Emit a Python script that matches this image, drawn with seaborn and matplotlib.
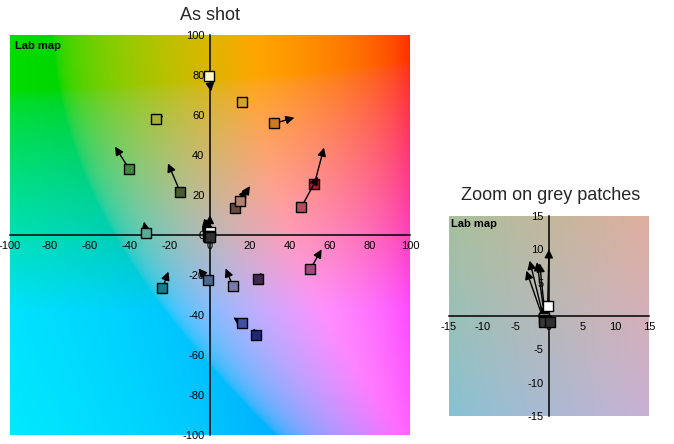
import numpy as np
import pandas as pd
import matplotlib
matplotlib.use("Agg")
import matplotlib.pyplot as plt
import seaborn as sns

# Colour patches: measured (a*, b*) as shot, and the reference (a*, b*) each arrow points to
patch_names = [
    "pale yellow", "yellow green", "green", "dark olive", "teal grey", "gold",
    "orange", "red", "rose", "dark brown", "light brown", "teal",
    "slate blue", "magenta", "lavender", "dark purple", "blue", "navy",
]
shot_a = [-0.5, -27.0, -40.3, -14.8, -32.0, 16.2, 32.2, 52.2, 45.7, 12.7, 15.2, -23.8,
          -0.8, 50.2, 11.5, 23.8, 16.0, 23.2]
shot_b = [79.5, 58.0, 32.8, 21.3, 1.2, 66.3, 55.8, 25.5, 14.0, 13.3, 17.0, -26.7,
          -22.7, -17.0, -25.7, -22.0, -44.2, -50.2]
ref_a = [0.5, -23.2, -47.5, -21.0, -33.0, 16.2, 42.2, 57.0, 54.0, 18.5, 20.0, -20.8,
         -5.8, 55.8, 7.8, 25.8, 11.7, 21.8]
ref_b = [71.7, 59.6, 44.2, 35.8, 6.7, 66.3, 58.7, 43.7, 29.2, 23.0, 24.5, -18.3,
         -16.7, -7.2, -16.7, -18.8, -41.2, -46.7]
patch_colors = ["#fff7c8", "#a8b030", "#3c8a3c", "#4a5a32", "#5aaa98", "#d8a030",
                "#d07820", "#a82030", "#b84a5a", "#6a4a3a", "#b08272", "#1a7a90",
                "#4a6890", "#a04a80", "#7a7ab0", "#42284e", "#4050a0", "#202878"]

# Neutral (grey) patches
grey_names = ["white", "grey 1", "grey 2", "grey 3", "grey 4", "black"]
grey_shot_a = [-0.2, -0.8, -0.6, -0.5, -0.7, 0.2]
grey_shot_b = [1.5, -0.3, -0.6, -0.8, -0.9, -0.9]
grey_ref_a = [0.0, -2.9, -1.8, -1.4, -3.4, -1.3]
grey_ref_b = [10.0, 8.3, 8.1, 7.9, 6.8, 1.4]
grey_colors = ["#ffffff", "#c0c0c0", "#808080", "#505050", "#383838", "#303030"]

map_lightness = 75.0
main_ticks = list(range(-100, 101, 20))
zoom_ticks = list(range(-15, 16, 5))


def lab_to_srgb(L, a, b):
    """Lab (D65 white) to sRGB, clipped per channel."""
    fy = (L + 16.0) / 116.0
    fx = fy + a / 500.0
    fz = fy - b / 200.0
    d = 6.0 / 29.0

    def finv(t):
        return np.where(t > d, t ** 3, 3 * d * d * (t - 4.0 / 29.0))

    X = 0.95047 * finv(fx)
    Y = 1.00000 * finv(np.full_like(fx, fy))
    Z = 1.08883 * finv(fz)
    r = 3.2406 * X - 1.5372 * Y - 0.4986 * Z
    g = -0.9689 * X + 1.8758 * Y + 0.0415 * Z
    bl = 0.0557 * X - 0.2040 * Y + 1.0570 * Z
    rgb = np.stack([r, g, bl], axis=-1)
    rgb = np.clip(rgb, 0, 1)
    rgb = np.where(rgb <= 0.0031308, 12.92 * rgb, 1.055 * rgb ** (1 / 2.4) - 0.055)
    return np.clip(rgb, 0, 1)


def lab_map(ax, lim):
    grid = np.linspace(-lim, lim, 400)
    A, B = np.meshgrid(grid, grid)
    img = lab_to_srgb(map_lightness, A, B)
    ax.imshow(img, origin="lower", extent=[-lim, lim, -lim, lim],
              aspect="auto", interpolation="bilinear", zorder=0)


def style_axes(ax, lim, ticks):
    ax.set_xlim(-lim, lim)
    ax.set_ylim(-lim, lim)
    for side in ("top", "right"):
        ax.spines[side].set_visible(False)
    for side in ("left", "bottom"):
        ax.spines[side].set_position(("data", 0))
        ax.spines[side].set_linewidth(1.1)
        ax.spines[side].set_color("black")
        ax.spines[side].set_zorder(1)
    ax.set_xticks(ticks)
    ax.set_yticks(ticks)
    ax.set_xticklabels([str(t) for t in ticks])
    ax.set_yticklabels([str(t) for t in ticks])
    ax.tick_params(length=0, pad=4, labelsize=8, colors="black")
    ax.set_xlabel("")
    ax.set_ylabel("")
    ax.text(0.012, 0.985, "Lab map", transform=ax.transAxes, ha="left", va="top",
            fontsize=8, fontweight="bold", color="black", zorder=500)


def draw_patches(ax, frame, palette, z0, interleave=True):
    """Arrow from each measured patch to its reference, square on the measured point.

    interleave=True: every patch's square covers its own arrow, later patches overlay
    earlier ones.  interleave=False: all arrows of the group sit under all squares.
    """
    n = len(frame)
    for i, (_, row) in enumerate(frame.iterrows()):
        if interleave:
            z_arrow, z_square = z0 + 2 * i, z0 + 2 * i + 1
        else:
            z_arrow, z_square = z0 + i, z0 + n + i
        if np.hypot(row.ref_a - row.a, row.ref_b - row.b) > 1e-6:
            ax.annotate("", xy=(row.ref_a, row.ref_b), xytext=(row.a, row.b),
                        arrowprops=dict(arrowstyle="-|>,head_length=0.5,head_width=0.25",
                                        color="black", lw=1.0, shrinkA=0, shrinkB=0,
                                        mutation_scale=10),
                        zorder=z_arrow)
        sns.scatterplot(data=frame.iloc[[i]], x="a", y="b", hue="patch",
                        palette=palette, marker="s", s=58, edgecolor="black",
                        linewidth=1.0, legend=False, ax=ax, zorder=z_square)


sns.set_style("white")
plt.rcParams["font.family"] = ["Liberation Sans", "DejaVu Sans"]

colour_df = pd.DataFrame({"patch": patch_names, "a": shot_a, "b": shot_b,
                          "ref_a": ref_a, "ref_b": ref_b})
grey_df = pd.DataFrame({"patch": grey_names, "a": grey_shot_a, "b": grey_shot_b,
                        "ref_a": grey_ref_a, "ref_b": grey_ref_b})
palette = dict(zip(patch_names, patch_colors))
palette.update(dict(zip(grey_names, grey_colors)))

W, H = 674, 444
fig = plt.figure(figsize=(W / 100, H / 100), dpi=100)
fig.patch.set_facecolor("white")

ax_main = fig.add_axes([10 / W, 1 - 435 / H, 400 / W, 400 / H])
lab_map(ax_main, 100)
draw_patches(ax_main, colour_df, palette, z0=2)
draw_patches(ax_main, grey_df, palette, z0=100, interleave=False)
style_axes(ax_main, 100, main_ticks)

ax_zoom = fig.add_axes([449 / W, 1 - 416 / H, 200 / W, 200 / H])
lab_map(ax_zoom, 15)
draw_patches(ax_zoom, grey_df, palette, z0=2, interleave=False)
style_axes(ax_zoom, 15, zoom_ticks)

fig.text(210 / W, 1 - 15 / H, "As shot", ha="center", va="center", fontsize=13)
fig.text(551 / W, 1 - 196 / H, "Zoom on grey patches", ha="center", va="center",
         fontsize=13)

fig.savefig("out.png", dpi=100, facecolor="white")
